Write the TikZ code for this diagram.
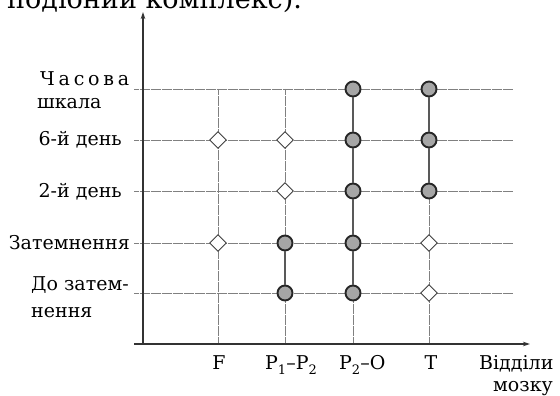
\documentclass[tikz,border=0pt]{standalone}
\usepackage{fontspec}
\setmainfont{DejaVu Serif}
\usetikzlibrary{arrows.meta,shapes.geometric}
\begin{document}
\begin{tikzpicture}[x=1pt,y=-1pt,
  gridline/.style={draw=black!50, line width=0.6pt, dash pattern=on 0.6pt off 0.5pt},
  axisline/.style={draw=black!80, line width=1.1pt, -{Stealth[length=7pt,width=4.5pt]}},
  linkline/.style={draw=black!65, line width=1.4pt},
  posmark/.style={circle, draw=black!85, fill=black!35, line width=1.9pt, minimum size=15pt, inner sep=0pt},
  negmark/.style={diamond, draw=black!75, fill=white, line width=0.9pt, minimum size=17pt, inner sep=0pt},
  lab/.style={font=\fontsize{19}{22}\selectfont, inner sep=0pt, text=black},
]
\useasboundingbox (0,0) rectangle (560,396);
\begin{scope}
\clip (0,0) rectangle (560,396);
\node[lab, font=\fontsize{27}{30}\selectfont, anchor=base west] (caption) at (7,9) {подібний комплекс).};
\end{scope}

% grid ends
\foreach \n/\y in {5/89,4/140,3/191,2/243,1/293}{
  \coordinate (rl\n) at (134,\y);
  \coordinate (rr\n) at (513,\y);
}
\foreach \n/\x in {F/218,A/285,B/353,T/429}{
  \coordinate (ct\n) at (\x,89);
  \coordinate (cb\n) at (\x,344);
}
\foreach \n in {5,4,3,2,1}{ \draw[gridline] (rl\n) -- (rr\n); }
\foreach \n in {F,A,B,T}{ \draw[gridline] (ct\n) -- (cb\n); }

% axes
\coordinate (xs) at (134,344);
\coordinate (xe) at (530,344);
\coordinate (ys) at (143,344);
\coordinate (ye) at (143,12);
\draw[axisline] (xs) -- (xe);
\draw[axisline] (ys) -- (ye);

% markers
\node[posmark] (B5) at (353,89) {};
\node[posmark] (T5) at (429,89) {};
\node[negmark] (F4) at (218,140) {};
\node[negmark] (A4) at (285,140) {};
\node[posmark] (B4) at (353,140) {};
\node[posmark] (T4) at (429,140) {};
\node[negmark] (A3) at (285,191) {};
\node[posmark] (B3) at (353,191) {};
\node[posmark] (T3) at (429,191) {};
\node[negmark] (F2) at (218,243) {};
\node[posmark] (A2) at (285,243) {};
\node[posmark] (B2) at (353,243) {};
\node[negmark] (T2) at (429,243) {};
\node[posmark] (A1) at (285,293) {};
\node[posmark] (B1) at (353,293) {};
\node[negmark] (T1) at (429,293) {};

\draw[linkline] (A2) -- (A1);
\draw[linkline] (B5) -- (B4) -- (B3) -- (B2) -- (B1);
\draw[linkline] (T5) -- (T4) -- (T3);

% row labels
\node[lab, anchor=base west] (l5a) at (40,85) {\addfontfeature{LetterSpace=20}Часова};
\node[lab, anchor=base west] (l5b) at (37,108) {шкала};
\node[lab, anchor=base east] (l4) at (122,146) {6-й день};
\node[lab, anchor=base east] (l3) at (122,197) {2-й день};
\node[lab, anchor=base east] (l2) at (130,249) {Затемнення};
\node[lab, anchor=base west] (l1a) at (31,290) {До затем-};
\node[lab, anchor=base west] (l1b) at (31,317) {нення};

% column labels
\newcommand{\subs}[1]{\raisebox{-0.55ex}{\fontsize{13}{13}\selectfont #1}}
\node[lab, anchor=base] (cF) at (219,369) {F};
\node[lab, anchor=base west] (cA) at (265,369) {P\subs{1}–P\subs{2}};
\node[lab, anchor=base west] (cB) at (339,369) {P\subs{2}–O};
\node[lab, anchor=base] (cT) at (431,369) {T};
\node[lab, anchor=base west] (cx1) at (479,369) {Відділи};
\node[lab, anchor=base west] (cx2) at (493,391) {мозку};
\end{tikzpicture}
\end{document}
